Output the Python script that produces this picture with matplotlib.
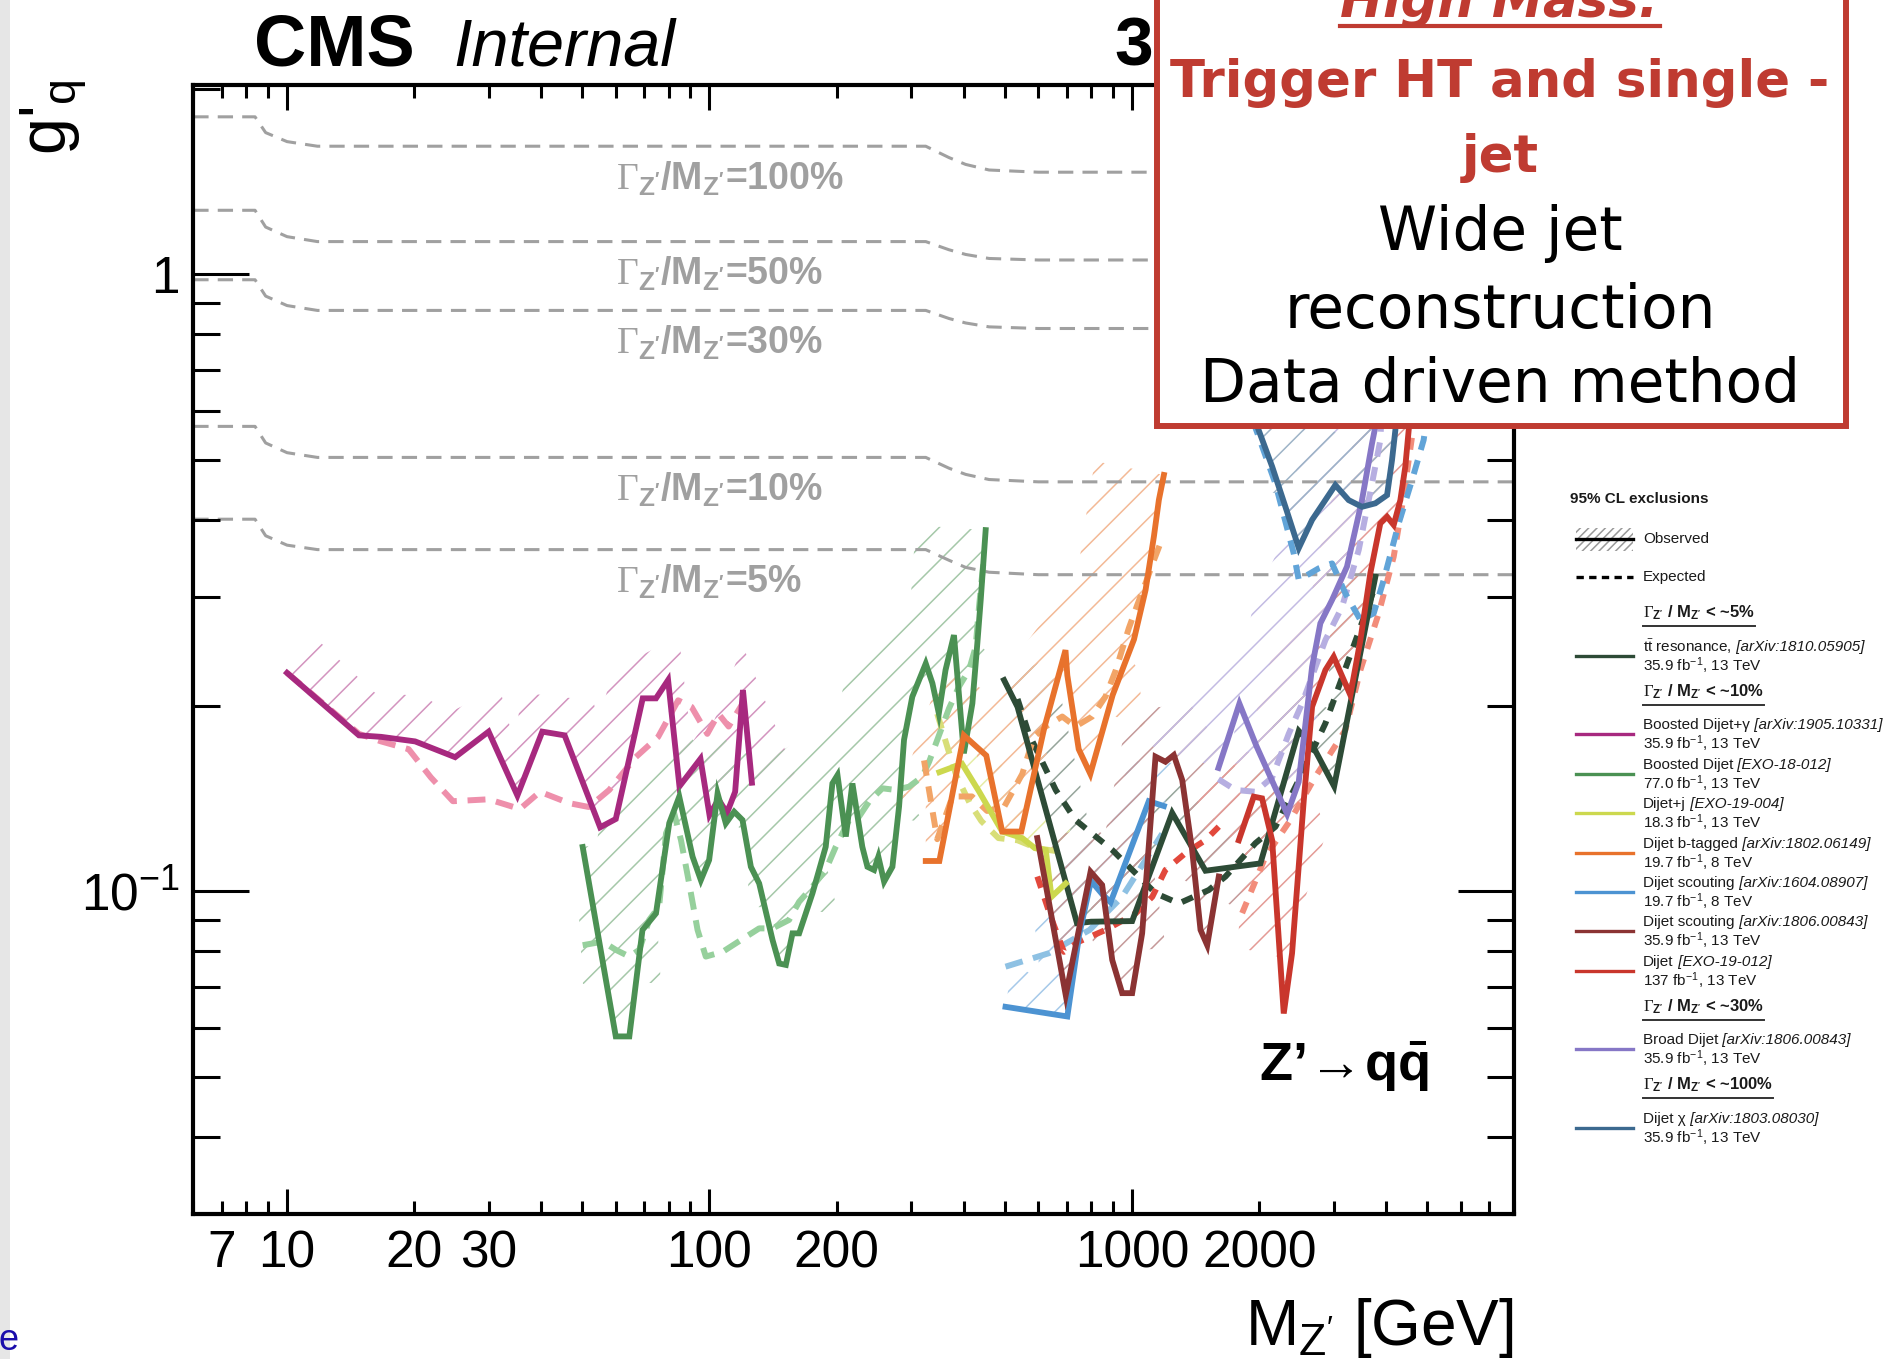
import numpy as np
import matplotlib
matplotlib.use("Agg")
import matplotlib.pyplot as plt
from matplotlib.ticker import FixedLocator, FuncFormatter, LogLocator, NullFormatter
from matplotlib.lines import Line2D
from matplotlib.patches import Rectangle
from matplotlib.colors import to_rgb
from matplotlib.transforms import Bbox

plt.rcParams['font.family'] = ['Liberation Sans', 'DejaVu Sans']
plt.rcParams['mathtext.fontset'] = 'custom'
plt.rcParams['mathtext.rm'] = 'Liberation Serif'
plt.rcParams['mathtext.sf'] = 'Liberation Sans'
plt.rcParams['mathtext.bf'] = 'Liberation Sans:bold'
plt.rcParams['mathtext.it'] = 'Liberation Sans:italic'
plt.rcParams['hatch.linewidth'] = 1.1

# ---------------- data ----------------
# Gamma/M reference curves
width_m = [6, 8.4, 8.9, 10.0, 11.8, 325, 369, 404, 459, 600, 8000]
width_100 = [1.80, 1.80, 1.697, 1.641, 1.613, 1.613, 1.546, 1.507, 1.476, 1.464, 1.464]
width_50 = [1.27, 1.27, 1.193, 1.151, 1.13, 1.13, 1.096, 1.077, 1.061, 1.055, 1.055]
width_30 = [0.98, 0.98, 0.922, 0.89, 0.874, 0.874, 0.848, 0.834, 0.822, 0.817, 0.817]
width_10 = [0.567, 0.567, 0.533, 0.514, 0.505, 0.505, 0.485, 0.474, 0.465, 0.461, 0.461]
width_5 = [0.401, 0.401, 0.377, 0.364, 0.358, 0.358, 0.344, 0.335, 0.329, 0.326, 0.326]
width_names = ['100%', '50%', '30%', '10%', '5%']

# Boosted Dijet+gamma
dpg_obs_m = [10.0, 14.8, 16.7, 20.1, 25.0, 30.0, 35.1, 40.2, 45.4, 55.1, 60.0, 69.5, 74.7, 79.8,
             84.9, 95.2, 100, 105, 110, 115, 120, 126]
dpg_obs_g = [0.226, 0.179, 0.178, 0.175, 0.165, 0.1815, 0.143, 0.1815, 0.179, 0.127, 0.131, 0.2055,
             0.2055, 0.220, 0.148, 0.164, 0.133, 0.141, 0.134, 0.145, 0.212, 0.150]
dpg_exp_m = [10.0, 14.8, 16.7, 19.4, 21.9, 24.7, 30.0, 35.6, 39.7, 46.5, 51.8, 57.9, 66.9, 75.6,
             84.3, 90.7, 98.8, 105, 111, 120]
dpg_exp_g = [0.226, 0.180, 0.175, 0.170, 0.153, 0.140, 0.141, 0.136, 0.145, 0.139, 0.137, 0.146,
             0.165, 0.178, 0.204, 0.199, 0.180, 0.194, 0.185, 0.202]

# Boosted Dijet
bd_obs_m = [50.1, 60.0, 64.6, 69.4, 74.7, 80.3, 84.8, 91.2, 95.4, 99.8, 104.5, 109.3, 114.4, 119.7,
            125.3, 131.1, 141, 146.2, 151.6, 157.2, 163, 175.3, 188.4, 195.4, 200.9, 210.2, 217.9,
            230, 236.5, 245.2, 251, 259, 271, 281, 288.7, 302, 325, 337, 349, 362, 379, 400, 419,
            430.5, 438.5, 450.5]
bd_obs_g = [0.118, 0.0582, 0.0582, 0.0866, 0.0921, 0.129, 0.1424, 0.1138, 0.1043, 0.1124, 0.1441,
            0.1289, 0.1346, 0.1305, 0.1096, 0.103, 0.0834, 0.0764, 0.076, 0.0855, 0.0855, 0.0993,
            0.1181, 0.1496, 0.1543, 0.1227, 0.1496, 0.1181, 0.1096, 0.1083, 0.1138, 0.1037, 0.1096,
            0.1372, 0.176, 0.2067, 0.234, 0.2174, 0.1943, 0.2284, 0.2602, 0.1674, 0.2016, 0.2523,
            0.2967, 0.385]
bd_exp_m = [50.1, 55.9, 60, 64.6, 68.2, 72, 76, 78.9, 82.5, 85.6, 89.5, 93.7, 98, 107.4, 118.7,
            131.1, 141, 154.3, 163, 175.3, 188.4, 199, 214, 226, 238.6, 256.6, 276, 296.7, 319,
            331, 369, 389.5, 411.5, 426.6, 434.5, 446.3]
bd_exp_g = [0.0818, 0.0829, 0.0804, 0.0784, 0.0804, 0.0899, 0.0945, 0.1242, 0.1338, 0.1211, 0.103,
            0.0866, 0.0784, 0.0798, 0.0834, 0.0871, 0.0871, 0.0899, 0.0962, 0.1018, 0.1083, 0.1181,
            0.1305, 0.1322, 0.1398, 0.1469, 0.146, 0.1478, 0.1534, 0.1622, 0.198, 0.2147, 0.2284,
            0.2491, 0.2892, 0.3486]

# Dijet+j
dj_obs_m = [350, 396, 435, 493, 550, 589, 625, 645, 697]
dj_obs_g = [0.156, 0.161, 0.145, 0.125, 0.122, 0.1175, 0.1167, 0.098, 0.103]
dj_exp_m = [346, 365, 384, 413, 440, 483, 536, 595, 674]
dj_exp_g = [0.194, 0.172, 0.154, 0.139, 0.130, 0.122, 0.121, 0.1175, 0.116]

# Dijet b-tagged
bt_obs_m = [325, 350, 400, 452, 493, 547, 620, 696, 703, 748, 797, 900, 1011, 1077, 1127, 1158, 1190]
bt_obs_g = [0.112, 0.112, 0.179, 0.166, 0.125, 0.125, 0.184, 0.246, 0.224, 0.170, 0.155, 0.208,
            0.256, 0.308, 0.376, 0.431, 0.473]
bt_exp_m = [322, 346, 376, 418, 454, 498, 550, 586, 625, 684, 735, 805, 866, 915, 983, 1029, 1077,
            1127, 1179]
bt_exp_g = [0.163, 0.1215, 0.1425, 0.1425, 0.135, 0.137, 0.155, 0.178, 0.185, 0.192, 0.185, 0.192,
            0.207, 0.228, 0.267, 0.291, 0.316, 0.344, 0.373]

# ttbar resonance
tt_obs_m = [498, 536, 741, 800, 1001, 1245, 1493, 2014, 2482, 2680, 3010, 3768]
tt_obs_g = [0.220, 0.199, 0.0888, 0.0893, 0.0895, 0.134, 0.108, 0.111, 0.182, 0.172, 0.148, 0.3236]
tt_exp_m = [536, 570, 660, 735, 898, 1020, 1137, 1291, 1520, 1665, 1960, 2186, 2482, 2870, 3319,
            3567, 3750]
tt_exp_g = [0.205, 0.180, 0.146, 0.1305, 0.1167, 0.107, 0.0993, 0.0956, 0.1005, 0.1057, 0.1197,
            0.1273, 0.1515, 0.1872, 0.246, 0.282, 0.31]

# Dijet scouting 8 TeV
sc8_obs_m = [502, 703, 750, 800, 850, 890, 1096, 1190]
sc8_obs_g = [0.065, 0.0627, 0.085, 0.104, 0.099, 0.096, 0.140, 0.1375]
sc8_exp_m = [502, 636, 794, 948, 1179]
sc8_exp_g = [0.0755, 0.0794, 0.0866, 0.098, 0.124]

# Dijet scouting 13 TeV
sc13_obs_m = [597, 697, 798, 850, 898, 948, 1001, 1057, 1137, 1200, 1256, 1315, 1388, 1453, 1507, 1605]
sc13_obs_g = [0.122, 0.0679, 0.1076, 0.1024, 0.0774, 0.0684, 0.0684, 0.0855, 0.1653, 0.1622, 0.1663,
              0.1515, 0.1167, 0.0866, 0.0818, 0.1057]
sc13_exp_m = [597, 642, 690, 749, 866, 1020, 1117, 1200, 1338, 1493, 1605]
sc13_exp_g = [0.1057, 0.091, 0.0798, 0.0829, 0.0866, 0.0921, 0.098, 0.1083, 0.1153, 0.1211, 0.1273]

# Dijet 137 fb-1
dij_obs_m = [1790, 1942, 2032, 2147, 2287, 2393, 2551, 2669, 2870, 3002, 3288, 3473, 3666, 3871,
             4016, 4164, 4318, 4436, 4519, 4750]
dij_obs_g = [0.121, 0.1424, 0.1415, 0.121, 0.0634, 0.0794, 0.1406, 0.1992, 0.2284, 0.240, 0.208,
             0.2554, 0.3277, 0.3948, 0.4047, 0.3925, 0.4306, 0.4879, 0.5594, 0.80]
dij_exp_m = [1823, 2070, 2372, 2718, 3200, 3473, 3837, 4164, 4356, 4519, 4602, 4850]
dij_exp_g = [0.0922, 0.1138, 0.1305, 0.1534, 0.1826, 0.2284, 0.2822, 0.3486, 0.42, 0.50, 0.5455, 0.75]

# Broad dijet
br_obs_m = [1602, 1796, 1972, 2330, 2481, 2669, 2792, 2976, 3228, 3503, 3700, 3767, 3850]
br_obs_g = [0.1585, 0.2015, 0.1718, 0.1334, 0.1504, 0.2312, 0.2719, 0.2967, 0.336, 0.4306, 0.532,
            0.566, 0.75]
br_exp_m = [1602, 1758, 1960, 2147, 2350, 2527, 2870, 3143, 3441, 3700, 3872, 3960]
br_exp_g = [0.152, 0.146, 0.145, 0.153, 0.180, 0.2016, 0.2555, 0.2892, 0.3574, 0.4583, 0.5388, 0.75]

# Dijet chi
chi_obs_m = [1760, 1995, 2147, 2308, 2482, 2669, 3030, 3258, 3503, 3768, 4016, 4126, 4202, 4300]
chi_obs_g = [0.71, 0.559, 0.488, 0.420, 0.360, 0.400, 0.4555, 0.4306, 0.420, 0.4255, 0.4387, 0.500,
             0.559, 0.75]
chi_exp_m = [1760, 1995, 2185, 2415, 2482, 2767, 2976, 3200, 3473, 3734, 3943, 4279, 4602, 4902, 5050]
chi_exp_g = [0.69, 0.5455, 0.4583, 0.3529, 0.3196, 0.3338, 0.340, 0.304, 0.2753, 0.2822, 0.3196,
             0.3948, 0.4641, 0.5388, 0.62]

# x tick labels shown
x_labels = [7, 10, 20, 30, 100, 200, 1000, 2000]

# ---------------- figure ----------------
W, H = 1894, 1359


def fx(px):
    return px / W


def fy(py):
    return 1 - py / H


def lighten(c, f):
    r, g, b = to_rgb(c)
    return (1 - f * (1 - r), 1 - f * (1 - g), 1 - f * (1 - b))


fig = plt.figure(figsize=(W / 100, H / 100), dpi=100)
fig.patch.set_facecolor('white')
ax = fig.add_axes([fx(193.3), fy(1214), fx(1513.5) - fx(193.3), fy(84.6) - fy(1214)])
ax.set_xscale('log')
ax.set_yscale('log')
ax.set_xlim(6, 8000)
ax.set_ylim(0.03, 2.03)


# hatched band on the excluded (upper) side of a limit curve, drawn in pixel space
def hatch_band(xs, ys, color, width_px):
    pts = ax.transData.transform(np.column_stack([xs, ys]))
    seg = np.diff(pts, axis=0)
    seg_n = np.column_stack([-seg[:, 1], seg[:, 0]])
    seg_n /= np.hypot(seg_n[:, 0], seg_n[:, 1])[:, None]
    vn = np.zeros_like(pts)
    vn[:-1] += seg_n
    vn[1:] += seg_n
    vn /= np.hypot(vn[:, 0], vn[:, 1])[:, None] + 1e-9
    outer = pts + vn * width_px
    poly = ax.transData.inverted().transform(np.vstack([pts, outer[::-1]]))
    ax.fill(poly[:, 0], poly[:, 1], facecolor='none', edgecolor=color, hatch='/',
            linewidth=0, zorder=1)


# width reference curves
for wv, name in zip([width_100, width_50, width_30, width_10, width_5], width_names):
    ax.plot(width_m, wv, color='#A0A0A0', lw=2.2, dashes=(5, 3), zorder=1.5)
    ax.text(60, wv[4] * 0.885,
            r"$\Gamma_{\mathbf{Z'}}$/$\mathbf{M_{Z'}}$=" + name,
            color='#A0A0A0', fontsize=27, fontweight='bold', va='center', ha='left', zorder=1.6)

# name, obs, exp, obs color, exp color, band width px, dash pattern of expected
series = [
    ('tt', tt_obs_m, tt_obs_g, tt_exp_m, tt_exp_g, '#2D4B36', '#2D4B36', 45, (2.0, 1.8)),
    ('dpg', dpg_obs_m, dpg_obs_g, dpg_exp_m, dpg_exp_g, '#A7297F', '#EE8FAB', 45, (3.0, 1.8)),
    ('bd', bd_obs_m, bd_obs_g, bd_exp_m, bd_exp_g, '#4B9153', '#96D09C', 70, (3.0, 1.8)),
    ('dj', dj_obs_m, dj_obs_g, dj_exp_m, dj_exp_g, '#CCD84E', '#D8DE78', 35, (2.6, 1.8)),
    ('bt', bt_obs_m, bt_obs_g, bt_exp_m, bt_exp_g, '#E8722C', '#F2A466', 70, (2.6, 1.8)),
    ('sc8', sc8_obs_m, sc8_obs_g, sc8_exp_m, sc8_exp_g, '#4C93D2', '#8EC1E3', 45, (3.0, 1.8)),
    ('sc13', sc13_obs_m, sc13_obs_g, sc13_exp_m, sc13_exp_g, '#8B3333', '#E2483C', 55, (2.0, 1.8)),
    ('dij', dij_obs_m, dij_obs_g, dij_exp_m, dij_exp_g, '#C9362C', '#F28C7A', 55, (2.0, 1.8)),
    ('br', br_obs_m, br_obs_g, br_exp_m, br_exp_g, '#8677C6', '#B6AEE1', 70, (2.4, 1.8)),
    ('chi', chi_obs_m, chi_obs_g, chi_exp_m, chi_exp_g, '#3C698F', '#61A4D8', 55, (2.4, 1.8)),
]

for name, om, og, em, eg, c_obs, c_exp, bw, dsh in series:
    hatch_band(om, og, lighten(c_obs, 0.5), bw)
for name, om, og, em, eg, c_obs, c_exp, bw, dsh in series:
    ax.plot(em, eg, color=c_exp, lw=4.3, dashes=dsh, zorder=2, solid_capstyle='butt')
for name, om, og, em, eg, c_obs, c_exp, bw, dsh in series:
    ax.plot(om, og, color=c_obs, lw=4.2, zorder=3, solid_joinstyle='miter')

# axes style (ROOT like)
for sp in ax.spines.values():
    sp.set_linewidth(3)


def xfmt(v, pos):
    r = int(round(v))
    if r in x_labels and abs(v - r) < 1e-6 * v:
        return str(r)
    return ''


ax.xaxis.set_major_locator(FixedLocator([10, 100, 1000]))
ax.xaxis.set_minor_locator(LogLocator(base=10, subs=np.arange(2, 10), numticks=60))
ax.xaxis.set_major_formatter(FuncFormatter(xfmt))
ax.xaxis.set_minor_formatter(FuncFormatter(xfmt))
ax.yaxis.set_major_locator(FixedLocator([0.1, 1]))
ax.yaxis.set_minor_locator(LogLocator(base=10, subs=np.arange(2, 10), numticks=60))
ax.yaxis.set_major_formatter(FuncFormatter(lambda v, p: '1' if abs(v - 1) < 1e-6 else r'$\mathsf{10^{-1}}$'))
ax.yaxis.set_minor_formatter(NullFormatter())

ax.tick_params(axis='x', which='major', direction='in', top=True, length=18, width=2.2, labelsize=37, pad=11)
ax.tick_params(axis='x', which='minor', direction='in', top=True, length=9.5, width=2.2, labelsize=37, pad=11)
ax.tick_params(axis='y', which='major', direction='in', right=True, length=40, width=2.2, labelsize=37, pad=10)
ax.tick_params(axis='y', which='minor', direction='in', right=True, length=19.5, width=2.2)

# axis titles
fig.text(fx(1514), fy(1345), r"M$_{\mathsf{Z'}}$ [GeV]", fontsize=46, ha='right', va='baseline')
fig.text(fx(54), fy(117), r"g'$_{\mathsf{q}}$", fontsize=48, rotation=90, ha='center', va='center')

# CMS label and luminosity (the luminosity is mostly hidden by the box)
fig.text(fx(254), fy(66), "CMS", fontsize=52, fontweight='bold', va='baseline')
fig.text(fx(453), fy(66), "Internal", fontsize=48, style='italic', va='baseline')
lumi_t = fig.text(fx(1114), fy(66), r"35.9 fb$^{-1}$ (13 TeV)", fontsize=50, fontweight='bold',
                  va='baseline', zorder=4)
lumi_t.set_clip_box(Bbox([[0, 0], [1162, H]]))

# process label
fig.text(fx(1259), fy(1081), r"Z’$\!\rightarrow\!$$\mathbf{q\bar{q}}$", fontsize=39,
         fontweight='bold', va='baseline')

# light slide strip at the left
fig.patches.append(Rectangle((0, 0), fx(10), 1, transform=fig.transFigure, facecolor='#E6E6E6',
                             edgecolor='none', zorder=-1))
fig.text(fx(-2), fy(1350), "e", color='#1A0DAB', fontsize=26, va='baseline')

# ---------------- legend ----------------
renderer = fig.canvas.get_renderer()
leg_fs = 11
txt_col = '#1A1A1A'
lx0, lx1, ltx = fx(1576), fx(1633), fx(1643)

fig.text(fx(1570), fy(499), "95% CL exclusions", fontsize=11, fontweight='bold', va='center', color=txt_col)

# observed sample
fig.patches.append(Rectangle((lx0, fy(551)), lx1 - lx0, fy(528) - fy(551), transform=fig.transFigure,
                             facecolor='none', edgecolor='#999999', hatch='////', linewidth=0))
fig.lines.append(Line2D([lx0, lx1], [fy(539), fy(539)], transform=fig.transFigure, color='black', lw=2.4))
fig.text(ltx, fy(539), "Observed", fontsize=leg_fs, va='center', color=txt_col)
fig.lines.append(Line2D([lx0, lx1], [fy(577), fy(577)], transform=fig.transFigure, color='black', lw=2.4,
                        dashes=(2.2, 1.6)))
fig.text(ltx, fy(577), "Expected", fontsize=leg_fs, va='center', color=txt_col)


def header(py, frac):
    t = fig.text(ltx, fy(py), r"$\Gamma_{\mathbf{Z'}}$ / $\mathbf{M_{Z'}}$ < ~" + frac,
                 fontsize=12, fontweight='bold', va='center', color=txt_col)
    bb = t.get_window_extent(renderer)
    x0, x1 = fig.transFigure.inverted().transform([(bb.x0, 0), (bb.x1, 0)])[:, 0]
    fig.lines.append(Line2D([x0, x1], [fy(py + 13), fy(py + 13)], transform=fig.transFigure,
                            color='#333333', lw=1.4))


def rich(x, y, parts):
    for s, st in parts:
        t = fig.text(x, y, s, fontsize=leg_fs, style=st, va='center', color=txt_col)
        bb = t.get_window_extent(renderer)
        x = fig.transFigure.inverted().transform((bb.x1, bb.y0))[0]


def entry(py, color, first, ref, second):
    fig.lines.append(Line2D([lx0, lx1], [fy(py), fy(py)], transform=fig.transFigure, color=color, lw=2.4))
    rich(ltx, fy(py - 9), [(first, 'normal'), (" " + ref, 'italic')])
    fig.text(ltx, fy(py + 10), second, fontsize=leg_fs, va='center', color=txt_col)


lumi = r"fb$^{\mathsf{-1}}$"
header(613, "5%")
entry(656, '#2D4B36', r"t$\bar{\mathsf{t}}$ resonance,", "[arXiv:1810.05905]", "35.9 " + lumi + ", 13 TeV")
header(692, "10%")
entry(734, '#A7297F', "Boosted Dijet+γ", "[arXiv:1905.10331]", "35.9 " + lumi + ", 13 TeV")
entry(774, '#4B9153', "Boosted Dijet", "[EXO-18-012]", "77.0 " + lumi + ", 13 TeV")
entry(813, '#CCD84E', "Dijet+j", "[EXO-19-004]", "18.3 " + lumi + ", 13 TeV")
entry(853, '#E8722C', "Dijet b-tagged", "[arXiv:1802.06149]", "19.7 " + lumi + ", 8 TeV")
entry(892, '#4C93D2', "Dijet scouting", "[arXiv:1604.08907]", "19.7 " + lumi + ", 8 TeV")
entry(931, '#8B3333', "Dijet scouting", "[arXiv:1806.00843]", "35.9 " + lumi + ", 13 TeV")
entry(971, '#C9362C', "Dijet", "[EXO-19-012]", "137 " + lumi + ", 13 TeV")
header(1007, "30%")
entry(1049, '#8677C6', "Broad Dijet", "[arXiv:1806.00843]", "35.9 " + lumi + ", 13 TeV")
header(1085, "100%")
entry(1128, '#3C698F', "Dijet χ", "[arXiv:1803.08030]", "35.9 " + lumi + ", 13 TeV")

# ---------------- red annotation box ----------------
red = '#BF3B31'
fig.patches.append(Rectangle((fx(1157), fy(426)), fx(1846) - fx(1157), fy(-12) - fy(426),
                             transform=fig.transFigure, facecolor='white', edgecolor=red,
                             linewidth=4.3, zorder=5))
cx = fx(1500)
t = fig.text(cx, fy(17), "High Mass:", family='DejaVu Sans', fontsize=37, fontweight='bold',
             style='italic', color=red, ha='center', va='baseline', zorder=6)
bb = t.get_window_extent(renderer)
ux0, ux1 = fig.transFigure.inverted().transform([(bb.x0, 0), (bb.x1, 0)])[:, 0]
fig.lines.append(Line2D([ux0, ux1], [fy(26), fy(26)], transform=fig.transFigure, color=red, lw=3, zorder=6))
fig.text(cx, fy(97), "Trigger HT and single -", family='DejaVu Sans', fontsize=37, fontweight='bold',
         color=red, ha='center', va='baseline', zorder=6)
fig.text(cx, fy(172), "jet", family='DejaVu Sans', fontsize=37, fontweight='bold',
         color=red, ha='center', va='baseline', zorder=6)
fig.text(cx, fy(250), "Wide jet", family='DejaVu Sans', fontsize=43, color='black',
         ha='center', va='baseline', zorder=6)
fig.text(cx, fy(328), "reconstruction", family='DejaVu Sans', fontsize=43, color='black',
         ha='center', va='baseline', zorder=6)
fig.text(cx, fy(402), "Data driven method", family='DejaVu Sans', fontsize=43, color='black',
         ha='center', va='baseline', zorder=6)

fig.savefig('out.png', dpi=100)
